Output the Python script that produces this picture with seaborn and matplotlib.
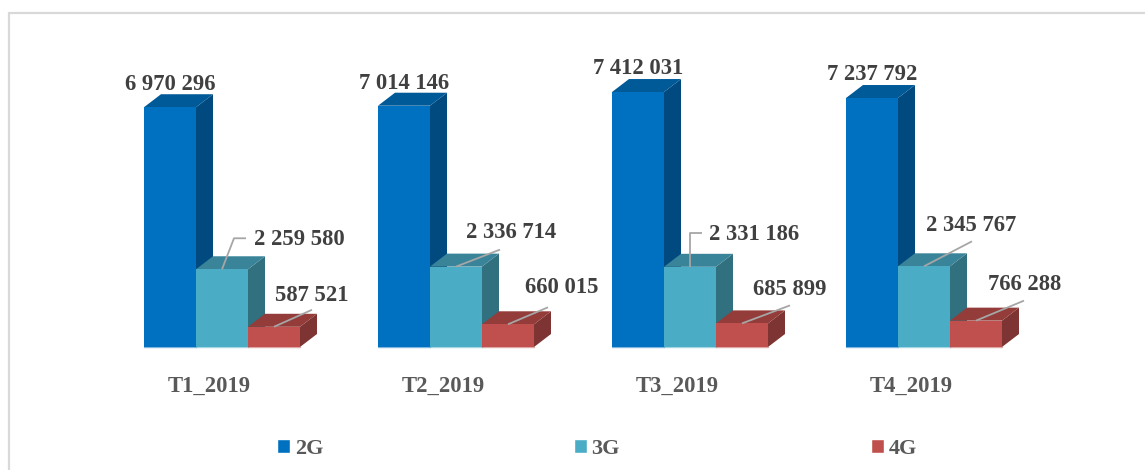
import matplotlib
matplotlib.use("Agg")
import matplotlib.pyplot as plt
from matplotlib.lines import Line2D
from matplotlib.patches import Polygon
import pandas as pd
import seaborn as sns

quarters = ["T1_2019", "T2_2019", "T3_2019", "T4_2019"]
values_2g = [6970296, 7014146, 7412031, 7237792]
values_3g = [2259580, 2336714, 2331186, 2345767]
values_4g = [587521, 660015, 685899, 766288]
networks = ["2G", "3G", "4G"]

FRONT = {"2G": "#0070C0", "3G": "#4BACC6", "4G": "#C0504D"}
TOP = {"2G": "#005A98", "3G": "#3A8499", "4G": "#943C3A"}
SIDE = {"2G": "#004A80", "3G": "#31707F", "4G": "#7D3432"}

W, H = 1145, 470
PX_X = 234.0        # pixels per category
PX_Y = 34.4e-6      # pixels per subscriber
DEPTH_X, DEPTH_Y = 17, 13
X0, Y0 = 222, 347   # pixel position of first category / baseline

# leader lines, pixel offsets from the front top centre of the bar
leaders_3g = [[(12, 31), (24, 31)], [(44, 17)], [(0, 34), (12, 34)], [(48, 25)]]
leaders_4g = [[(38, 17)], [(40, 17)], [(48, 18)], [(48, 20)]]
# label centre, same offsets
labels_2g = [(0, 23), (0, 22), (0, 24), (0, 24)]
labels_3g = [(77, 30), (55, 34), (64, 32), (47, 41)]
labels_4g = [(38, 31), (54, 37), (48, 34), (49, 36)]

df = pd.DataFrame({
    "quarter": quarters * 3,
    "network": [n for n in networks for _ in quarters],
    "value": values_2g + values_3g + values_4g,
})

sns.set_theme(style="white")
plt.rcParams["font.family"] = ["Liberation Serif", "DejaVu Serif"]
plt.rcParams["font.weight"] = "bold"

fig = plt.figure(figsize=(W / 100, H / 100), dpi=100)
ax = fig.add_axes([0, 0, 1, 1])
sns.barplot(data=df, x="quarter", y="value", hue="network", hue_order=networks,
            palette=FRONT, width=2 / 3, saturation=1, gap=0, ax=ax)

ax.set_xlim(-X0 / PX_X, (W - X0) / PX_X)
ax.set_ylim(-(H - Y0) / PX_Y, Y0 / PX_Y)
ax.axis("off")

dx = DEPTH_X / PX_X
dy = DEPTH_Y / PX_Y


def leader(x, y, points):
    xs = [x] + [x + p[0] / PX_X for p in points]
    ys = [y] + [y + p[1] / PX_Y for p in points]
    ax.plot(xs, ys, color="#A6A6A6", lw=1.3, zorder=20, solid_capstyle="butt")


for i, (net, bars) in enumerate(zip(networks, ax.containers)):
    for j, bar in enumerate(bars):
        x0, x1 = bar.get_x(), bar.get_x() + bar.get_width()
        y1 = bar.get_height()
        bar.set_zorder(5 + i)
        bar.set_edgecolor("none")
        ax.add_patch(Polygon([(x1, 0), (x1 + dx, dy), (x1 + dx, y1 + dy), (x1, y1)],
                             fc=SIDE[net], ec="none", zorder=4.5 + i))
        ax.add_patch(Polygon([(x0, y1), (x0 + dx, y1 + dy), (x1 + dx, y1 + dy), (x1, y1)],
                             fc=TOP[net], ec="none", zorder=4.5 + i))
        # thin light line along the foot of the bar
        ax.plot([x0, x1], [0, 0], color=FRONT[net], alpha=0.5, lw=1, zorder=6 + i)

        xc = (x0 + x1) / 2
        if net == "2G":
            off = labels_2g[j]
        elif net == "3G":
            off = labels_3g[j]
            leader(xc, y1, leaders_3g[j])
        else:
            off = labels_4g[j]
            leader(xc, y1, leaders_4g[j])
        txt = f"{int(y1):,}".replace(",", " ")
        ax.annotate(txt, (xc, y1), xytext=off, textcoords="offset pixels",
                    ha="center", va="center", fontsize=16.3, color="#404040",
                    fontweight="bold", zorder=30)

# category labels sit inside the full figure axes
for k, q in enumerate(quarters):
    ax.text(k - 13 / PX_X, -(386.5 - Y0) / PX_Y, q, ha="center", va="center",
            fontsize=16.3, color="#595959", fontweight="bold")

leg = ax.legend(loc="center left", bbox_to_anchor=(277 / W, 1 - 449 / H), ncol=3,
                frameon=False, fontsize=16, handlelength=0.58, handleheight=0.58,
                handletextpad=0.22, columnspacing=11.28, borderpad=0, borderaxespad=0,
                title=None)
for t in leg.get_texts():
    t.set_color("#595959")
    t.set_fontweight("bold")

# chart area border
fig.add_artist(Line2D([9 / W, 9 / W], [0, 1 - 13 / H], color="#D9D9D9", lw=1.6))
fig.add_artist(Line2D([9 / W, 1], [1 - 13 / H, 1 - 13 / H], color="#D9D9D9", lw=1.6))

fig.savefig("out.png", dpi=100, facecolor="white")
